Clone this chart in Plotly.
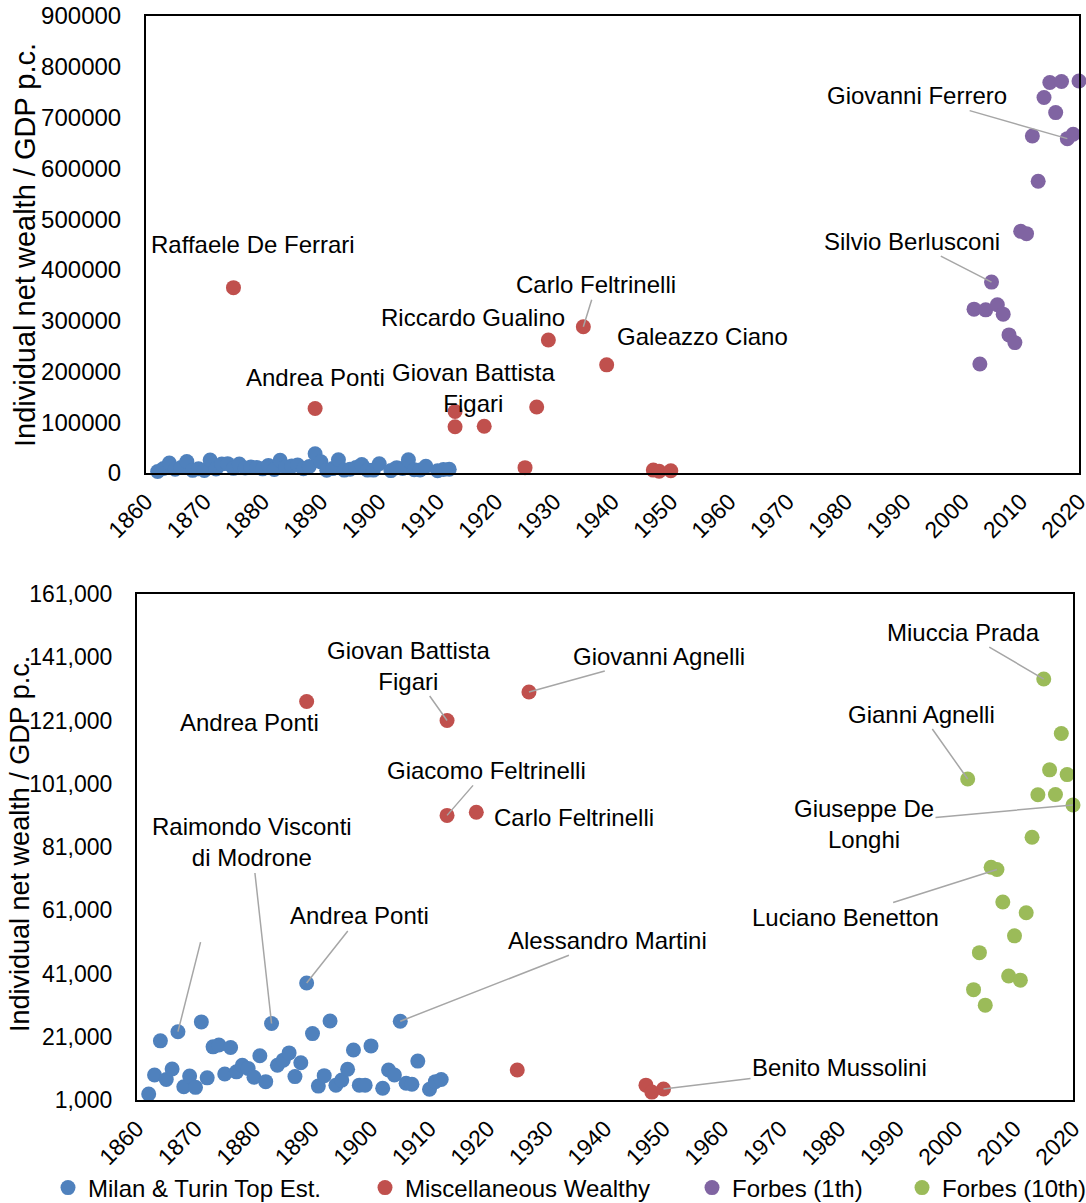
import plotly.graph_objects as go

# ---------------- data ----------------
milan_years = [1862, 1863, 1864, 1865, 1866, 1867, 1868, 1869, 1870, 1871,
               1872, 1873, 1874, 1875, 1876, 1877, 1878, 1879, 1880, 1881,
               1882, 1883, 1884, 1885, 1886, 1887, 1888, 1889, 1890, 1891,
               1892, 1893, 1894, 1895, 1896, 1897, 1898, 1899, 1900, 1902,
               1903, 1904, 1905, 1906, 1907, 1908, 1910, 1911, 1912]
milan_vals = [2900, 8900, 19700, 7500, 10800, 22600, 5200, 8600, 5000, 25700,
              8000, 17800, 18400, 9200, 17600, 9900, 12000, 11000, 8200, 15000,
              6800, 25200, 12000, 13600, 15900, 8400, 12800, 38000, 22000, 5400,
              8700, 26000, 5700, 7300, 10700, 16800, 5700, 5700, 18100, 4700,
              10500, 8900, 25900, 6300, 6000, 13300, 4400, 6800, 7500]

misc_years = [1875, 1889, 1913, 1913, 1918, 1925, 1927, 1929, 1935, 1939, 1947, 1948, 1950]
misc_vals = [365000, 127000, 121000, 91000, 92000, 10500, 130000, 262000, 288000, 213000, 5700, 3500, 4500]

forbes1_years = list(range(2002, 2021))
forbes1_vals = [322700, 214700, 321300, 376000, 331200, 312800, 272000, 256800, 476000, 471400,
                663600, 574700, 739400, 769000, 709800, 771000, 658500, 667000, 772000]

forbes10_years = list(range(2002, 2021))
forbes10_vals = [102500, 35900, 47600, 31000, 74600, 73900, 63600, 40200, 52900, 38900,
                 60200, 84100, 97500, 134100, 105400, 97600, 116900, 103900, 94300]

series_names = ["Milan & Turin Top Est.", "Miscellaneous Wealthy", "Forbes (1th)", "Forbes (10th)"]
x_ticks = list(range(1860, 2021, 10))

# ---------------- styling ----------------
FONT = "Liberation Sans, Arial, sans-serif"
FS = 24
COLORS = {"milan": "#4F81BD", "misc": "#C0504D", "f1": "#8064A2", "f10": "#9BBB59"}
MSIZE = 15
W, H = 1086, 1203

fig = go.Figure()


def add_series(xs, ys, name, color, xa, ya, legend, show):
    fig.add_trace(go.Scatter(
        x=xs, y=ys, mode="markers", name=name,
        marker=dict(color=color, size=MSIZE, line=dict(width=0)),
        xaxis=xa, yaxis=ya, legend=legend, legendgroup=name, showlegend=show,
        cliponaxis=False, hoverinfo="x+y+name"))


# top panel
add_series(milan_years, milan_vals, series_names[0], COLORS["milan"], "x", "y", "legend", True)
add_series(misc_years, misc_vals, series_names[1], COLORS["misc"], "x", "y", "legend2", True)
add_series(forbes1_years, forbes1_vals, series_names[2], COLORS["f1"], "x", "y", "legend3", True)
# bottom panel (values shown only inside the 1,000 - 161,000 window)
BOT_MAX = 161000
add_series(milan_years, milan_vals, series_names[0], COLORS["milan"], "x2", "y2", "legend", False)
mx = [x for x, v in zip(misc_years, misc_vals) if v <= BOT_MAX]
mv = [v for v in misc_vals if v <= BOT_MAX]
add_series(mx, mv, series_names[1], COLORS["misc"], "x2", "y2", "legend2", False)
add_series(forbes10_years, forbes10_vals, series_names[3], COLORS["f10"], "x2", "y2", "legend4", True)


def px_dom_x(a, b):
    return [a / W, b / W]


def px_dom_y(top, bottom):
    return [1 - bottom / H, 1 - top / H]


axis_common = dict(showline=True, linecolor="black", linewidth=2, mirror=True,
                   showgrid=False, zeroline=False, ticks="", automargin=False,
                   ticklabeloverflow="allow")

xaxis_common = dict(axis_common, range=[1860, 2020], tickmode="array", tickvals=x_ticks,
                    ticktext=[str(t) for t in x_ticks], tickangle=-45, ticklabelstandoff=4,
                    tickfont=dict(family=FONT, size=23, color="black"))

fig.update_layout(
    width=W, height=H,
    margin=dict(l=0, r=0, t=0, b=0, autoexpand=False),
    paper_bgcolor="white", plot_bgcolor="white",
    font=dict(family=FONT, size=FS, color="black"),
    xaxis=dict(xaxis_common, domain=px_dom_x(146, 1079), anchor="y"),
    yaxis=dict(axis_common, domain=px_dom_y(16, 473), anchor="x", range=[0, 900000],
               tickmode="linear", tick0=0, dtick=100000, tickformat="d", ticklabelstandoff=18,
               tickfont=dict(family=FONT, size=24, color="black")),
    xaxis2=dict(xaxis_common, domain=px_dom_x(137, 1073), anchor="y2"),
    yaxis2=dict(axis_common, domain=px_dom_y(594, 1100), anchor="x2", range=[1000, 161000],
                tickmode="linear", tick0=1000, dtick=20000, tickformat=",d", ticklabelstandoff=18,
                tickfont=dict(family=FONT, size=23, color="black")),
    hovermode="closest",
)

# separate legends to mimic the evenly spread Excel legend
leg_y = 1 - 1188 / H
leg_common = dict(orientation="h", yanchor="middle", y=leg_y, xanchor="left",
                  font=dict(family=FONT, size=FS, color="black"),
                  bgcolor="rgba(0,0,0,0)", borderwidth=0, itemsizing="trace")
fig.update_layout(
    legend=dict(leg_common, x=48 / W),
    legend2=dict(leg_common, x=365 / W),
    legend3=dict(leg_common, x=692 / W),
    legend4=dict(leg_common, x=902 / W),
)

# ---------------- annotations ----------------
series_data = {
    "milan": (milan_years, milan_vals),
    "misc": (misc_years, misc_vals),
    "f1": (forbes1_years, forbes1_vals),
    "f10": (forbes10_years, forbes10_vals),
}

# (series, index, text, dx, dy, leader) -- dx/dy are label offsets in pixels (dy positive = up)
top_labels = [
    ("misc", 0, "Raffaele De Ferrari", 20, 43, False),
    ("misc", 1, "Andrea Ponti", 0, 31, False),
    ("misc", 2, "Giovan Battista<br>Figari", 18, 24, False),
    ("misc", 7, "Riccardo Gualino", -75, 22, False),
    ("misc", 8, "Carlo Feltrinelli", 13, 42, True),
    ("misc", 9, "Galeazzo Ciano", 96, 28, False),
    ("f1", forbes1_years.index(2018), "Giovanni Ferrero", -150, 43, True),
    ("f1", forbes1_years.index(2005), "Silvio Berlusconi", -80, 41, True),
]
bottom_labels = [
    ("milan", milan_years.index(1867), "", 23, 91, True),
    ("milan", milan_years.index(1883), "Raimondo Visconti<br>di Modrone", -20, 181, True),
    ("milan", milan_years.index(1889), "Andrea Ponti", 53, 67, True),
    ("milan", milan_years.index(1905), "Alessandro Martini", 207, 81, True),
    ("misc", 1, "Andrea Ponti", -57, -21, False),
    ("misc", 2, "Giovan Battista<br>Figari", -39, 55, True),
    ("misc", 3, "Giacomo Feltrinelli", 39, 45, True),
    ("misc", 4, "Carlo Feltrinelli", 98, -5, False),
    ("misc", 6, "Giovanni Agnelli", 130, 36, True),
    ("misc", 12, "Benito Mussolini", 176, 21, True),
    ("f10", forbes10_years.index(2015), "Miuccia Prada", -80, 47, True),
    ("f10", forbes10_years.index(2002), "Gianni Agnelli", -46, 65, True),
    ("f10", forbes10_years.index(2020), "Giuseppe De<br>Longhi", -209, -19, True),
    ("f10", forbes10_years.index(2007), "Luciano Benetton", -151, -48, True),
]

annotations = []


def make_labels(specs, xref, yref):
    for key, idx, text, dx, dy, leader in specs:
        xs, ys = series_data[key]
        a = dict(x=xs[idx], y=ys[idx], xref=xref, yref=yref, text=text,
                 font=dict(family=FONT, size=FS, color="black"), align="center")
        if leader:
            a.update(showarrow=True, ax=dx, ay=-dy, arrowhead=0, arrowwidth=1.5,
                     arrowcolor="#A6A6A6", standoff=0, startstandoff=0)
        else:
            a.update(showarrow=False, xshift=dx, yshift=dy)
        annotations.append(a)


make_labels(top_labels, "x", "y")
make_labels(bottom_labels, "x2", "y2")

# y-axis titles
ytitle = "Individual net wealth / GDP p.c."
annotations.append(dict(text=ytitle, xref="paper", yref="paper", x=25 / W, y=1 - 245 / H,
                        showarrow=False, textangle=-90, font=dict(family=FONT, size=29, color="black"),
                        xanchor="center", yanchor="middle"))
annotations.append(dict(text=ytitle, xref="paper", yref="paper", x=20 / W, y=1 - 844 / H,
                        showarrow=False, textangle=-90, font=dict(family=FONT, size=27, color="black"),
                        xanchor="center", yanchor="middle"))

fig.update_layout(annotations=annotations)

fig.write_html(
    "out.html",
    config={"displayModeBar": False},
    post_script="document.body.style.margin='0';document.body.style.padding='0';"
                "document.body.style.overflow='hidden';",
)
